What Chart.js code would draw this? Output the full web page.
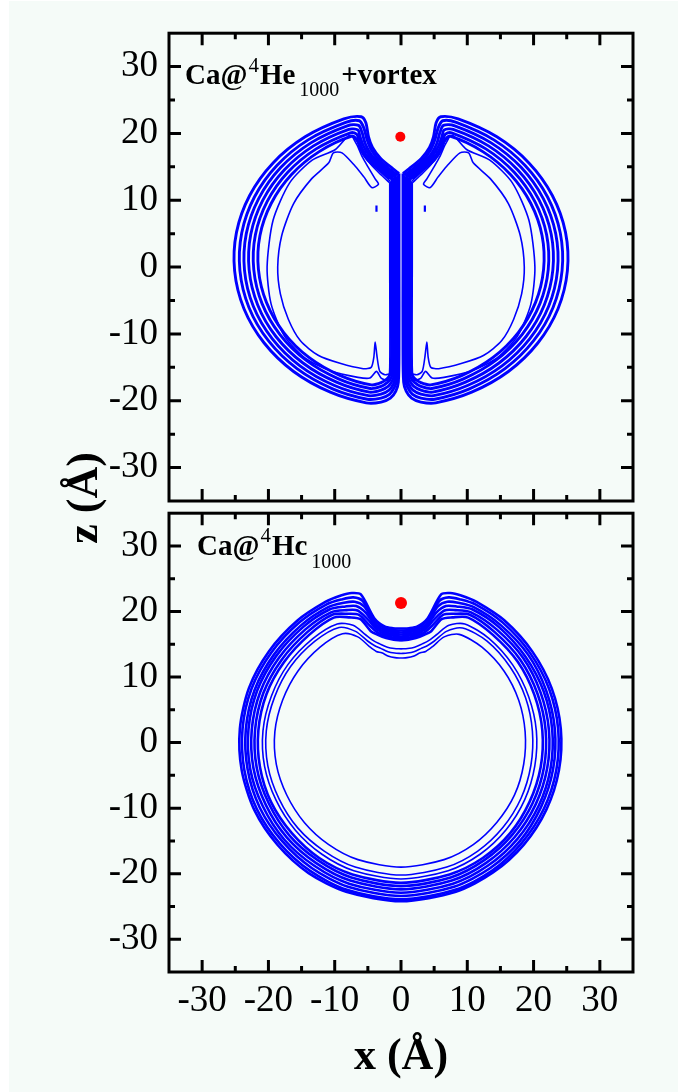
<!DOCTYPE html>
<html>
<head>
<meta charset="utf-8">
<script src="https://cdn.jsdelivr.net/npm/chart.js@4.4.1/dist/chart.umd.min.js"></script>
<style>
  html, body { margin: 0; padding: 0; background: #ffffff; }
  #page { position: absolute; left: 9px; top: 1px; width: 669px; height: 1091px; background: #f5fbf8; }
  canvas { position: absolute; left: 0; }
  #topChart { top: 0; }
  #bottomChart { top: 480px; }
</style>
</head>
<body>
<div id="page"></div>
<canvas id="topChart" width="678" height="560"></canvas>
<canvas id="bottomChart" width="678" height="612"></canvas>
<script>
const BLUE = '#0000ff';
const SERIF = '"Liberation Serif", "Times New Roman", serif';

// axis ticks (both axes, both panels)
const majorTicks = [-30, -20, -10, 0, 10, 20, 30];
const minorTicks = [-25, -15, -5, 5, 15, 25];

// Ca atom positions [x, z]
const caVortex = [-0.1, 19.5];
const caPlain = [0, 21.3];

// ---- bottom panel, Ca@4He1000: contour radii read at these polar angles (deg)
const ringAngles = [90, 86, 82, 78, 75, 72, 68, 62, 50, 35, 20, 5, -10, -25, -40, -55, -70, -90,
  -110, -125, -140, -155, -170, -185, -200, -215, -230, -242, -248, -252, -255, -258, -262, -266, -270];

const band0 = [15.6, 15.75, 16.1, 16.8, 17.6, 19.8, 20.6, 21.6, 21.5, 21.5, 21.4, 21.4, 21.4, 21.4, 21.5, 21.5, 21.4, 21.4,
  21.4, 21.5, 21.5, 21.6, 21.6, 21.6, 21.6, 21.5, 21.5, 21.6, 20.6, 19.8, 17.6, 16.8, 16.1, 15.75, 15.6];
const band1 = [15.9, 16.05, 16.4, 17.2, 18.6, 20.5, 21.2, 22.1, 22.0, 22.0, 21.9, 21.9, 21.9, 21.9, 21.9, 21.9, 21.9, 21.9,
  21.9, 21.9, 22.0, 22.0, 22.1, 22.1, 22.1, 22.0, 22.0, 22.1, 21.2, 20.5, 18.6, 17.2, 16.4, 16.05, 15.9];
const band2 = [16.2, 16.35, 16.7, 17.7, 19.5, 21.2, 21.8, 22.5, 22.5, 22.5, 22.4, 22.4, 22.4, 22.4, 22.4, 22.4, 22.4, 22.4,
  22.4, 22.4, 22.5, 22.5, 22.6, 22.6, 22.6, 22.5, 22.5, 22.5, 21.8, 21.2, 19.5, 17.7, 16.7, 16.35, 16.2];
const band3 = [16.5, 16.6, 17.0, 18.1, 20.5, 21.9, 22.4, 23.0, 23.0, 22.9, 22.9, 22.9, 22.9, 22.9, 22.9, 22.9, 22.9, 22.9,
  22.9, 22.9, 23.0, 23.0, 23.1, 23.1, 23.1, 23.0, 23.0, 23.0, 22.4, 21.9, 20.5, 18.1, 17.0, 16.6, 16.5];
const band4 = [16.8, 16.9, 17.3, 18.5, 21.5, 22.6, 23.0, 23.4, 23.4, 23.4, 23.3, 23.3, 23.3, 23.3, 23.4, 23.4, 23.4, 23.4,
  23.4, 23.4, 23.4, 23.5, 23.5, 23.5, 23.5, 23.4, 23.4, 23.4, 23.0, 22.6, 21.5, 18.5, 17.3, 16.9, 16.8];
const band5 = [17.1, 17.2, 17.6, 19.0, 22.4, 23.3, 23.6, 23.9, 23.9, 23.8, 23.8, 23.8, 23.8, 23.8, 23.8, 23.9, 23.9, 23.9,
  23.9, 23.9, 23.9, 24.0, 24.0, 24.0, 24.0, 23.9, 23.9, 23.9, 23.6, 23.3, 22.4, 19.0, 17.6, 17.2, 17.1];
const band6 = [17.4, 17.5, 17.9, 19.4, 23.4, 24.0, 24.2, 24.3, 24.3, 24.2, 24.2, 24.2, 24.2, 24.2, 24.2, 24.2, 24.2, 24.2,
  24.2, 24.3, 24.3, 24.4, 24.4, 24.4, 24.4, 24.3, 24.3, 24.3, 24.2, 24.0, 23.4, 19.4, 17.9, 17.5, 17.4];
const inner1 = [12.9, 13.0, 13.3, 14.0, 14.4, 15.4, 17.4, 18.7, 19.0, 19.0, 18.9, 18.8, 18.8, 18.9, 18.9, 19.0, 19.0, 19.0,
  19.0, 19.0, 19.0, 19.0, 19.1, 19.1, 19.0, 19.0, 19.0, 18.8, 17.4, 15.4, 14.4, 14.0, 13.3, 13.0, 12.9];
const inner2 = [13.6, 13.7, 14.0, 14.7, 15.3, 16.3, 18.3, 19.8, 20.2, 20.1, 20.0, 19.9, 19.9, 20.0, 20.1, 20.2, 20.2, 20.2,
  20.2, 20.2, 20.3, 20.3, 20.4, 20.4, 20.3, 20.3, 20.2, 19.9, 18.3, 16.3, 15.3, 14.7, 14.0, 13.7, 13.6];
const inner3 = [14.3, 14.4, 14.7, 15.4, 16.1, 17.3, 19.3, 20.5, 20.7, 20.6, 20.5, 20.5, 20.5, 20.6, 20.7, 20.8, 20.8, 20.8,
  20.8, 20.8, 20.8, 20.8, 20.9, 20.9, 20.8, 20.8, 20.7, 20.5, 19.3, 17.3, 16.1, 15.4, 14.7, 14.4, 14.3];

// ---- top panel, Ca@4He1000+vortex: each half-drop contour as z list + x list (right / left half)
const vZ5 = [14.0, 14.7, 16.3, 17.9, 19.5, 21.6, 22.5, 22.17, 19.49, 15.59, 10.72, 5.20, -0.58, -6.23, -11.36, -15.62, -18.72, -20.31, -20.2, -19.6, -18.6, -17.2, -12, 0, 8, 14.0];
const vXR5 = [0.3, 1.2, 3.1, 4.3, 4.9, 5.3, 6.0, 8.62, 14.46, 19.30, 22.83, 24.82, 25.10, 23.69, 20.64, 16.20, 10.66, 5.24, 3.0, 1.6, 0.8, 0.4, 0.3, 0.3, 0.3, 0.3];
const vXL5 = [-0.3, -1.2, -3.1, -4.3, -4.9, -5.3, -6.0, -8.62, -14.46, -19.30, -22.83, -24.82, -25.10, -23.69, -20.64, -16.20, -10.66, -5.24, -3.0, -1.6, -0.8, -0.4, -0.3, -0.3, -0.3, -0.3];
const vZ4 = [13.75, 14.4, 15.9, 17.4, 19.0, 20.8, 21.9, 21.65, 19.04, 15.24, 10.49, 5.11, -0.53, -6.04, -11.05, -15.20, -18.22, -19.77, -19.6, -19.0, -18.0, -16.8, -12, 0, 8, 13.75];
const vXR4 = [0.5, 1.4, 3.2, 4.4, 5.1, 5.6, 6.3, 8.34, 14.01, 18.69, 22.11, 24.03, 24.30, 22.94, 19.98, 15.69, 10.32, 5.08, 3.0, 1.7, 1.0, 0.6, 0.5, 0.5, 0.5, 0.5];
const vXL4 = [-0.5, -1.4, -3.2, -4.4, -5.1, -5.6, -6.3, -8.34, -14.01, -18.69, -22.11, -24.03, -24.30, -22.94, -19.98, -15.69, -10.32, -5.08, -3.0, -1.7, -1.0, -0.6, -0.5, -0.5, -0.5, -0.5];
const vZ3 = [13.6, 14.2, 15.6, 17.0, 18.5, 20.2, 21.2, 21.14, 18.59, 14.89, 10.25, 5.01, -0.48, -5.85, -10.73, -14.77, -17.72, -19.24, -19.0, -18.4, -17.5, -16.4, -12, 0, 8, 13.6];
const vXR3 = [0.75, 1.6, 3.25, 4.6, 5.4, 5.9, 6.4, 8.11, 13.60, 18.15, 21.47, 23.34, 23.61, 22.28, 19.41, 15.24, 10.03, 4.93, 3.0, 1.8, 1.15, 0.8, 0.75, 0.75, 0.75, 0.75];
const vXL3 = [-0.75, -1.6, -3.25, -4.6, -5.4, -5.9, -6.4, -8.11, -13.60, -18.15, -21.47, -23.34, -23.61, -22.28, -19.41, -15.24, -10.03, -4.93, -3.0, -1.8, -1.15, -0.8, -0.75, -0.75, -0.75, -0.75];
const vZ2 = [13.5, 14.0, 15.3, 16.7, 18.1, 19.6, 20.5, 20.62, 18.14, 14.53, 10.02, 4.92, -0.43, -5.66, -10.42, -14.35, -17.22, -18.70, -18.4, -17.8, -17.0, -16.0, -12, 0, 8, 13.5];
const vXR2 = [0.95, 1.8, 3.3, 4.75, 5.65, 6.2, 6.5, 7.87, 13.20, 17.62, 20.84, 22.66, 22.91, 21.62, 18.84, 14.79, 9.73, 4.78, 3.0, 1.9, 1.3, 1.0, 0.95, 0.95, 0.95, 0.95];
const vXL2 = [-0.95, -1.8, -3.3, -4.75, -5.65, -6.2, -6.5, -7.87, -13.20, -17.62, -20.84, -22.66, -22.91, -21.62, -18.84, -14.79, -9.73, -4.78, -3.0, -1.9, -1.3, -1.0, -0.95, -0.95, -0.95, -0.95];
const vZ1 = [13.35, 13.8, 15.0, 16.35, 17.8, 19.2, 19.9, 20.10, 17.69, 14.18, 9.79, 4.82, -0.39, -5.47, -10.10, -13.93, -16.72, -18.16, -17.85, -17.2, -16.5, -15.6, -12, 0, 8, 13.35];
const vXR1 = [1.15, 2.0, 3.35, 4.9, 5.9, 6.4, 6.7, 7.63, 12.80, 17.08, 20.20, 21.97, 22.21, 20.96, 18.26, 14.34, 9.43, 4.64, 3.0, 2.0, 1.45, 1.2, 1.15, 1.15, 1.15, 1.15];
const vXL1 = [-1.15, -2.0, -3.35, -4.9, -5.9, -6.4, -6.7, -7.63, -12.80, -17.08, -20.20, -21.97, -22.21, -20.96, -18.26, -14.34, -9.43, -4.64, -3.0, -2.0, -1.45, -1.2, -1.15, -1.15, -1.15, -1.15];
const vZ0 = [13.2, 13.6, 14.7, 16.0, 17.6, 19.0, 19.59, 17.24, 13.82, 9.56, 4.73, -0.34, -5.28, -9.79, -13.51, -16.23, -17.62, -17.3, -16.7, -16.0, -15.2, -12, 0, 8, 13.2];
const vXR0 = [1.35, 2.2, 3.4, 5.0, 6.1, 6.6, 7.39, 12.40, 16.55, 19.57, 21.28, 21.51, 20.30, 17.69, 13.89, 9.14, 4.49, 3.0, 2.1, 1.6, 1.4, 1.35, 1.35, 1.35, 1.35];
const vXL0 = [-1.35, -2.2, -3.4, -5.0, -6.1, -6.6, -7.39, -12.40, -16.55, -19.57, -21.28, -21.51, -20.30, -17.69, -13.89, -9.14, -4.49, -3.0, -2.1, -1.6, -1.4, -1.35, -1.35, -1.35, -1.35];
// thin inner contours with the finger near the top and the spike near the bottom
const vZT1 = [12.8, 14.0, 15.4, 17.0, 18.8, 19.7, 18.2, 16.6, 14.7, 13.2, 12.4, 11.9, 13.5, 15.1, 17.1, 17.1, 15.6, 13.2, 9.5, 4.7, 0, -4, -7.8, -11.0, -13.2, -14.4, -15.2, -15.0, -13.5, -11.2, -13.5, -15.6, -16.1, -15.8, -5, 5, 12.8];
const vXRT1 = [1.6, 2.8, 4.4, 5.6, 6.5, 7.4, 6.6, 5.9, 4.8, 3.9, 3.4, 4.4, 5.6, 6.9, 8.9, 10.2, 10.9, 13.5, 16.2, 18.0, 18.6, 18.2, 17.0, 15.2, 12.5, 9.2, 5.7, 4.5, 4.1, 3.9, 3.6, 3.2, 2.4, 1.6, 1.6, 1.6, 1.6];
const vXLT1 = [-1.6, -2.8, -4.4, -5.6, -6.5, -7.4, -6.6, -5.9, -4.8, -3.9, -3.4, -4.4, -5.6, -6.9, -8.9, -10.2, -10.9, -13.5, -16.2, -18.0, -18.6, -18.2, -17.0, -15.2, -12.5, -9.2, -5.7, -4.5, -4.1, -3.9, -3.6, -3.2, -2.4, -1.6, -1.6, -1.6, -1.6];
const vZT2 = [12.6, 13.7, 15.3, 17.0, 18.8, 19.7, 17.6, 16.0, 12.6, 7.0, 0, -5.5, -10.3, -13.6, -15.6, -16.5, -16.6, -15.6, -16.6, -16.9, -15, 0, 12.6];
const vXRT2 = [1.7, 2.9, 4.5, 5.7, 6.6, 7.8, 9.9, 13.4, 16.8, 19.3, 20.2, 19.6, 17.6, 14.5, 10.5, 6.5, 4.7, 3.7, 3.0, 2.0, 1.7, 1.7, 1.7];
const vXLT2 = [-1.7, -2.9, -4.5, -5.7, -6.6, -7.8, -9.9, -13.4, -16.8, -19.3, -20.2, -19.6, -17.6, -14.5, -10.5, -6.5, -4.7, -3.7, -3.0, -2.0, -1.7, -1.7, -1.7];
// two tiny isolated contours
const dashZ = [8.3, 9.2];
const dashXR = [3.6, 3.6];
const dashXL = [-3.7, -3.7];

function ringPoints(radii) {
  return ringAngles.map((a, i) => ({
    x: radii[i] * Math.cos(a * Math.PI / 180),
    y: radii[i] * Math.sin(a * Math.PI / 180)
  }));
}

function xzPoints(xs, zs) {
  return xs.map((x, i) => ({ x: x, y: zs[i] }));
}

function contour(points, width, tension) {
  return {
    data: points, showLine: true, fill: false, pointRadius: 0,
    borderColor: BLUE, borderWidth: width,
    tension: tension === undefined ? 0.3 : tension
  };
}

function atom(pos, radius) {
  return {
    data: [{ x: pos[0], y: pos[1] }], showLine: false,
    pointRadius: radius, pointBackgroundColor: '#ff0000', pointBorderWidth: 0
  };
}

function scalesFor(showX) {
  const tickFont = { family: SERIF, size: 37 };
  return {
    x: {
      type: 'linear', min: -35, max: 35, display: showX,
      afterBuildTicks: s => { s.ticks = majorTicks.map(v => ({ value: v })); },
      afterFit: s => { s.height = showX ? 120 : 0; },
      grid: { display: false, drawTicks: false }, border: { display: false },
      ticks: { font: tickFont, color: '#000', padding: 7, maxRotation: 0, autoSkip: false, callback: v => String(v) },
      title: { display: true, text: 'x (Å)', color: '#000', font: { family: SERIF, size: 44, weight: 'bold' }, padding: { top: 0, bottom: 8 } }
    },
    y: {
      type: 'linear', min: -35, max: 35,
      afterBuildTicks: s => { s.ticks = majorTicks.map(v => ({ value: v })); },
      afterFit: s => { s.width = 169; },
      grid: { display: false, drawTicks: false }, border: { display: false },
      ticks: { font: tickFont, color: '#000', padding: 11, autoSkip: false, callback: v => String(v) }
    }
  };
}

// frame with inward ticks on all four sides, panel label, optional z title
function panelPlugin(labelX, labelY, parts, withZTitle) {
  return {
    id: 'panel',
    afterDatasetsDraw(chart) {
      const { ctx, chartArea: a } = chart;
      const sx = chart.scales.x, sy = chart.scales.y;
      ctx.save();
      ctx.strokeStyle = '#000';
      ctx.lineWidth = 3;
      ctx.beginPath();
      majorTicks.concat(minorTicks).forEach(v => {
        const len = majorTicks.includes(v) ? 12 : 6;
        const px = sx.getPixelForValue(v);
        ctx.moveTo(px, a.top); ctx.lineTo(px, a.top + len);
        ctx.moveTo(px, a.bottom); ctx.lineTo(px, a.bottom - len);
        const py = sy.getPixelForValue(v);
        ctx.moveTo(a.left, py); ctx.lineTo(a.left + len, py);
        ctx.moveTo(a.right, py); ctx.lineTo(a.right - len, py);
      });
      ctx.stroke();
      ctx.strokeRect(a.left, a.top, a.right - a.left, a.bottom - a.top);

      ctx.fillStyle = '#000';
      ctx.textBaseline = 'alphabetic';
      let x = labelX;
      parts.forEach(([text, font, dy, gap]) => {
        x += gap;
        ctx.font = font;
        ctx.fillText(text, x, labelY + dy);
        x += ctx.measureText(text).width;
      });

      if (withZTitle) {
        ctx.translate(97, 498);
        ctx.rotate(-Math.PI / 2);
        ctx.font = 'bold 44px ' + SERIF;
        ctx.textAlign = 'center';
        ctx.fillText('z (Å)', 0, 0);
      }
      ctx.restore();
    }
  };
}

const B29 = 'bold 29px ' + SERIF;
const R21 = '21px ' + SERIF;
const R20 = '20px ' + SERIF;

const TOP_W = 2.9, RING_W = 2.6, THIN_W = 1.6;

const topSets = [
  atom(caVortex, 5),
  contour(xzPoints(vXR0, vZ0), TOP_W), contour(xzPoints(vXL0, vZ0), TOP_W),
  contour(xzPoints(vXR1, vZ1), TOP_W), contour(xzPoints(vXL1, vZ1), TOP_W),
  contour(xzPoints(vXR2, vZ2), TOP_W), contour(xzPoints(vXL2, vZ2), TOP_W),
  contour(xzPoints(vXR3, vZ3), TOP_W), contour(xzPoints(vXL3, vZ3), TOP_W),
  contour(xzPoints(vXR4, vZ4), TOP_W), contour(xzPoints(vXL4, vZ4), TOP_W),
  contour(xzPoints(vXR5, vZ5), TOP_W), contour(xzPoints(vXL5, vZ5), TOP_W),
  contour(xzPoints(vXRT1, vZT1), THIN_W, 0.25), contour(xzPoints(vXLT1, vZT1), THIN_W, 0.25),
  contour(xzPoints(vXRT2, vZT2), THIN_W, 0.25), contour(xzPoints(vXLT2, vZT2), THIN_W, 0.25),
  contour(xzPoints(dashXR, dashZ), 2.2, 0), contour(xzPoints(dashXL, dashZ), 2.2, 0)
];

const bottomSets = [atom(caPlain, 6)]
  .concat([band0, band1, band2, band3, band4, band5, band6].map(r => contour(ringPoints(r), RING_W, 0.28)))
  .concat([inner1, inner2, inner3].map(r => contour(ringPoints(r), THIN_W, 0.28)));

const common = {
  responsive: false, animation: false, devicePixelRatio: 1, events: [],
  plugins: { legend: { display: false }, tooltip: { enabled: false } }
};

new Chart(document.getElementById('topChart'), {
  type: 'scatter',
  data: { datasets: topSets },
  options: Object.assign({}, common, {
    layout: { padding: { top: 31, right: 45, bottom: 59, left: 0 } },
    scales: scalesFor(false)
  }),
  plugins: [panelPlugin(185, 84, [['Ca@', B29, 0, 0], ['4', R21, -12, 1], ['He', B29, 0, 1], ['1000', R20, 12, 4], ['+vortex', B29, 0, 2]], true)]
});

new Chart(document.getElementById('bottomChart'), {
  type: 'scatter',
  data: { datasets: bottomSets },
  options: Object.assign({}, common, {
    layout: { padding: { top: 21, right: 45, bottom: 0, left: 0 } },
    scales: scalesFor(true)
  }),
  plugins: [panelPlugin(197, 75, [['Ca@', B29, 0, 0], ['4', R21, -13, 1], ['Hc', B29, 0, 1], ['1000', R20, 13, 4]], false)]
});
</script>
</body>
</html>
